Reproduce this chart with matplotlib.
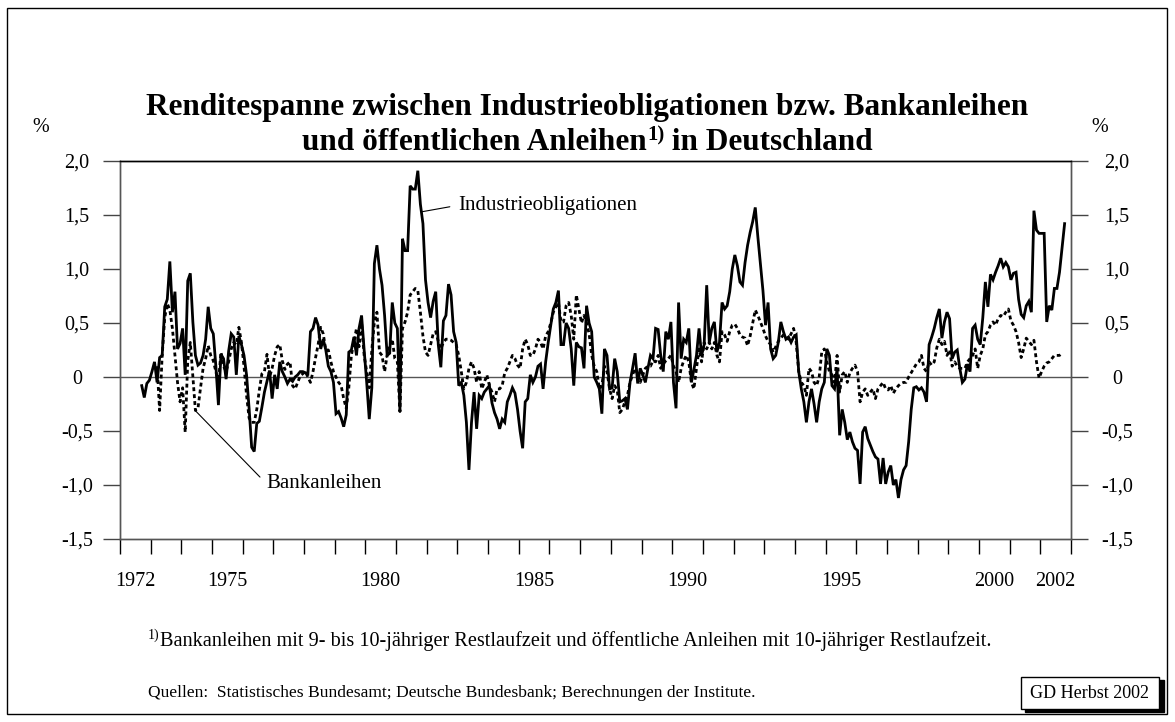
import matplotlib
matplotlib.use("Agg")
import matplotlib.pyplot as plt
from matplotlib.patches import Rectangle

plt.rcParams['font.family'] = ['Liberation Serif', 'DejaVu Serif']

# Renditespanne Industrieobligationen (Monatswerte ab Sep 1972), in Prozentpunkten
industrie_start = (1972, 9)
industrie = [
    -0.08, -0.19, -0.06, -0.03,                                                  # 1972
    0.05, 0.14, -0.05, 0.18, 0.2, 0.65, 0.72, 1.07, 0.6, 0.79, 0.26, 0.31,      # 1973
    0.45, 0.02, 0.89, 0.96, 0.51, 0.2, 0.11, 0.13, 0.2, 0.35, 0.65, 0.45,       # 1974
    0.40, 0.1, -0.26, 0.21, 0.17, -0.02, 0.24, 0.40, 0.37, 0.02, 0.38, 0.3,     # 1975
    0.2, 0.02, -0.29, -0.65, -0.69, -0.43, -0.41, -0.28, -0.14, -0.04, 0.06, -0.2,
    0.02, -0.11, 0.14, 0.05, 0.0, -0.06, -0.02, -0.04, 0.0, 0.02, 0.05, 0.05,
    0.04, 0.03, 0.42, 0.45, 0.55, 0.48, 0.26, 0.35, 0.25, 0.1, 0.05, -0.05,
    -0.34, -0.32, -0.38, -0.46, -0.35, 0.23, 0.25, 0.37, 0.2, 0.45, 0.57, 0.25,
    -0.05, -0.39, -0.1, 1.05, 1.22, 1.0, 0.85, 0.57, 0.2, 0.22, 0.69, 0.5,      # 1980
    0.45, -0.32, 1.28, 1.17, 1.17, 1.77, 1.74, 1.74, 1.91, 1.6, 1.42, 0.9,
    0.69, 0.55, 0.7, 0.79, 0.3, 0.09, 0.52, 0.57, 0.86, 0.76, 0.42, 0.32,
    -0.08, -0.05, -0.17, -0.42, -0.86, -0.42, -0.14, -0.48, -0.17, -0.2, -0.14, -0.11,
    -0.08, -0.24, -0.33, -0.39, -0.48, -0.39, -0.42, -0.23, -0.17, -0.1, -0.15, -0.3,
    -0.5, -0.66, -0.23, -0.2, 0.02, -0.05, 0.0, 0.1, 0.12, -0.11, 0.14, 0.32,   # 1985
    0.48, 0.63, 0.69, 0.80, 0.3, 0.3, 0.5, 0.45, 0.26, -0.08, 0.32, 0.28,
    0.27, 0.08, 0.66, 0.5, 0.42, 0.0, -0.05, -0.11, -0.34, 0.26, 0.2, -0.11,
    -0.1, 0.17, 0.05, -0.23, -0.22, -0.2, -0.3, -0.05, 0.08, 0.22, -0.06, 0.08,
    0.02, -0.05, 0.08, 0.2, 0.17, 0.45, 0.44, 0.2, 0.05, 0.42, 0.35, 0.51,
    -0.05, -0.29, 0.69, 0.17, 0.35, 0.32, 0.45, -0.05, 0.07, 0.2, 0.45, 0.2,    # 1990
    0.3, 0.85, 0.32, 0.45, 0.51, 0.23, 0.32, 0.69, 0.63, 0.66, 0.79, 1.0,
    1.13, 1.03, 0.88, 0.85, 1.06, 1.22, 1.34, 1.44, 1.57, 1.3, 1.05, 0.8,
    0.48, 0.69, 0.26, 0.17, 0.2, 0.32, 0.51, 0.42, 0.35, 0.37, 0.32, 0.37,
    0.39, 0.05, -0.11, -0.23, -0.42, -0.23, -0.11, -0.25, -0.42, -0.23, -0.11, -0.05,
    0.26, 0.2, -0.08, -0.11, 0.08, -0.54, -0.3, -0.42, -0.58, -0.51, -0.6, -0.66,   # 1995
    -0.68, -0.99, -0.51, -0.46, -0.57, -0.63, -0.69, -0.74, -0.76, -0.99, -0.75, -0.99,
    -0.88, -0.82, -1.0, -0.95, -1.12, -0.95, -0.86, -0.82, -0.6, -0.3, -0.1, -0.09,
    -0.12, -0.1, -0.14, -0.23, 0.3, 0.37, 0.45, 0.55, 0.63, 0.36, 0.51, 0.6,
    0.54, 0.17, 0.23, 0.25, 0.08, -0.05, -0.02, 0.12, 0.05, 0.45, 0.48, 0.35,
    0.3, 0.55, 0.88, 0.65, 0.95, 0.9, 0.97, 1.03, 1.1, 1.02, 1.06, 1.02,        # 2000
    0.9, 0.96, 0.97, 0.72, 0.58, 0.55, 0.66, 0.7, 0.6, 1.54, 1.36, 1.33,
    1.33, 1.33, 0.51, 0.66, 0.62, 0.82, 0.82, 0.97, 1.2, 1.42,
]

# Renditespanne Bankanleihen (Monatswerte ab Mrz 1973)
bank_start = (1973, 3)
bank = [
    0.1, -0.31, 0.2, 0.55, 0.68, 0.62, 0.45, 0.2, -0.05, -0.23,                 # 1973
    -0.1, -0.51, 0.15, 0.32, 0.0, -0.31, -0.29, -0.1, 0.08, 0.17, 0.29, 0.2,
    0.15, 0.05, -0.05, 0.23, 0.1, 0.05, 0.14, 0.26, 0.32, 0.3, 0.46, 0.32,      # 1975
    0.1, -0.17, -0.38, -0.42, -0.42, -0.3, -0.12, 0.03, 0.05, 0.21, 0.0, 0.08,
    0.2, 0.28, 0.3, 0.15, 0.07, 0.12, 0.14, -0.08, -0.11, -0.05, 0.01, 0.03,
    0.05, 0.0, -0.05, 0.05, 0.18, 0.3, 0.46, 0.4, 0.25, 0.25, 0.14, 0.05,
    0.0, -0.05, -0.08, -0.2, -0.29, -0.1, 0.2, 0.32, 0.45, 0.28, 0.5, 0.2,
    0.05, -0.1, 0.25, 0.51, 0.6, 0.23, 0.2, 0.05, 0.2, 0.29, 0.35, 0.17,        # 1980
    0.14, -0.32, 0.45, 0.51, 0.6, 0.76, 0.79, 0.82, 0.8, 0.6, 0.38, 0.23,
    0.2, 0.3, 0.4, 0.42, 0.33, 0.26, 0.32, 0.35, 0.35, 0.34, 0.32, 0.3,
    0.2, 0.05, -0.11, -0.05, 0.08, 0.14, 0.08, -0.05, 0.05, -0.11, -0.05, 0.02,
    -0.08, -0.14, -0.23, -0.11, -0.11, -0.08, 0.04, 0.08, 0.14, 0.2, 0.17, 0.11,
    0.08, 0.26, 0.35, 0.3, 0.2, 0.2, 0.26, 0.35, 0.32, 0.26, 0.38, 0.42,        # 1985
    0.5, 0.6, 0.65, 0.69, 0.51, 0.51, 0.66, 0.69, 0.57, 0.35, 0.76, 0.63,
    0.5, 0.57, 0.5, 0.4, 0.2, 0.1, 0.05, -0.11, -0.08, 0.1, 0.05, -0.11,
    -0.2, -0.08, -0.12, -0.33, -0.3, -0.23, -0.17, -0.05, 0.02, 0.08, 0.02, -0.05,
    0.02, 0.08, 0.1, 0.1, 0.15, 0.14, 0.2, 0.08, 0.12, 0.15, 0.17, 0.2,
    0.1, 0.05, -0.05, 0.08, 0.15, 0.2, 0.14, -0.05, -0.11, 0.08, 0.26, 0.14,    # 1990
    0.32, 0.26, 0.32, 0.26, 0.32, 0.2, 0.14, 0.42, 0.39, 0.33, 0.42, 0.48,
    0.49, 0.45, 0.39, 0.37, 0.36, 0.29, 0.38, 0.5, 0.62, 0.57, 0.51, 0.45,
    0.38, 0.33, 0.3, 0.23, 0.28, 0.33, 0.36, 0.39, 0.37, 0.35, 0.4, 0.45,
    0.32, 0.05, -0.05, -0.08, -0.17, 0.08, 0.05, -0.05, -0.08, 0.0, 0.23, 0.26,
    0.14, 0.05, 0.02, -0.05, 0.2, -0.14, 0.02, 0.05, -0.05, 0.04, 0.08, 0.11,   # 1995
    0.05, -0.23, -0.14, -0.11, -0.17, -0.14, -0.11, -0.2, -0.11, -0.08, -0.05, -0.11,
    -0.12, -0.08, -0.15, -0.11, -0.08, -0.06, -0.05, -0.05, 0.0, 0.04, 0.08, 0.12,
    0.14, 0.2, 0.08, 0.05, 0.14, 0.11, 0.14, 0.27, 0.35, 0.3, 0.33, 0.2,
    0.25, 0.1, 0.14, 0.1, 0.08, 0.08, 0.08, 0.14, 0.17, 0.2, 0.26, 0.08,
    0.2, 0.26, 0.39, 0.42, 0.48, 0.51, 0.48, 0.54, 0.57, 0.56, 0.6, 0.63,       # 2000
    0.52, 0.48, 0.42, 0.32, 0.18, 0.26, 0.36, 0.33, 0.3, 0.34, 0.14, -0.01,
    0.05, 0.1, 0.13, 0.14, 0.17, 0.2, 0.2, 0.2, 0.22,
]

label_years = [1972, 1975, 1980, 1985, 1990, 1995, 2000, 2002]
y_ticks = [-1.5, -1.0, -0.5, 0.0, 0.5, 1.0, 1.5, 2.0]
y_labels = ['-1,5', '-1,0', '-0,5', '0', '0,5', '1,0', '1,5', '2,0']


def month_axis(start, n):
    y0, m0 = start
    return [y0 + (m0 - 1 + i + 0.5) / 12.0 for i in range(n)]


fig = plt.figure(figsize=(11.75, 7.22), dpi=100)
ax = fig.add_axes([120 / 1175, 1 - 539 / 722, 951 / 1175, 378 / 722])

ax.axhline(0, color='#555555', lw=1.0, zorder=1)
ax.plot(month_axis(industrie_start, len(industrie)), industrie,
        color='black', lw=2.0, solid_joinstyle='miter', zorder=3)
ax.plot(month_axis(bank_start, len(bank)), bank,
        color='black', lw=2.0, linestyle=(0, (1.4, 1.1)), zorder=4)

ax.set_xlim(1972, 2003)
ax.set_ylim(-1.5, 2.0)

# x-Achse: Striche an Jahresgrenzen, Beschriftung in der Jahresmitte
ax.set_xticks(range(1972, 2004))
ax.set_xticklabels([])
ax.set_xticks([y + 0.5 for y in label_years], minor=True)
ax.set_xticklabels([str(y) for y in label_years], minor=True)
ax.tick_params(axis='x', which='major', direction='out', length=11, width=1, color='black')
ax.tick_params(axis='x', which='minor', length=0, pad=24, labelsize=14.5)

ax.set_yticks(y_ticks)
ax.set_yticklabels(y_labels)
ax.tick_params(axis='y', direction='out', length=12, width=1, color='#444444',
               labelsize=14.5, pad=19)
for lbl in ax.get_yticklabels():
    lbl.set_horizontalalignment('center')

ax2 = ax.twinx()
ax2.set_ylim(-1.5, 2.0)
ax2.set_yticks(y_ticks)
ax2.set_yticklabels(y_labels)
ax2.tick_params(axis='y', direction='out', length=12, width=1, color='#444444',
                labelsize=14.5, pad=21)
for lbl in ax2.get_yticklabels():
    lbl.set_horizontalalignment('center')

for a in (ax, ax2):
    for side in ('left', 'right', 'bottom'):
        a.spines[side].set_color('#555555')
        a.spines[side].set_linewidth(1.0)
    a.spines['top'].set_color('black')
    a.spines['top'].set_linewidth(1.0)

ax.annotate('Industrieobligationen', xy=(1981.84, 1.53), xytext=(1983.02, 1.59),
            fontsize=15, va='center', ha='left',
            arrowprops=dict(arrowstyle='-', color='black', lw=0.8,
                            relpos=(0, 0.5), shrinkA=4, shrinkB=0))
ax.annotate('Bankanleihen', xy=(1974.45, -0.31), xytext=(1976.78, -0.99),
            fontsize=15, va='center', ha='left',
            arrowprops=dict(arrowstyle='-', color='black', lw=0.8,
                            relpos=(0, 0.5), shrinkA=4, shrinkB=0))

fig.text(41 / 1175, 1 - 128 / 722, '%', fontsize=14.5, ha='center', va='center')
fig.text(1100 / 1175, 1 - 128 / 722, '%', fontsize=14.5, ha='center', va='center')

# Titel und Fussnote mit hochgestelltem "1)"
fig.canvas.draw()
rend = fig.canvas.get_renderer()
W, H = fig.bbox.width, fig.bbox.height


def place_parts(parts, x_px, y_px, centered):
    texts = []
    for s, size, weight, rise in parts:
        t = fig.text(0, 0, s, fontsize=size, fontweight=weight, ha='left', va='baseline')
        texts.append((t, rise))
    widths = [t.get_window_extent(renderer=rend).width for t, _ in texts]
    x = x_px - sum(widths) / 2 if centered else x_px
    for (t, rise), w in zip(texts, widths):
        t.set_position((x / W, (H - y_px + rise) / H))
        x += w


fig.text(0.5, 1 - 107 / 722, 'Renditespanne zwischen Industrieobligationen bzw. Bankanleihen',
         fontsize=22.5, fontweight='bold', ha='center', va='center')
place_parts([('und öffentlichen Anleihen', 22.5, 'bold', 0),
             ('1)', 15, 'bold', 10),
             (' in Deutschland', 22.5, 'bold', 0)], 587.5, 150, True)

place_parts([('1)', 10, 'normal', 7),
             ('Bankanleihen mit 9- bis 10-jähriger Restlaufzeit und öffentliche '
              'Anleihen mit 10-jähriger Restlaufzeit.', 14.6, 'normal', 0)], 148, 646, False)

fig.text(148 / 1175, 1 - 693 / 722,
         'Quellen:  Statistisches Bundesamt; Deutsche Bundesbank; Berechnungen der Institute.',
         fontsize=12.6, ha='left', va='center')

# Kasten "GD Herbst 2002" mit Schatten
fig.patches.append(Rectangle((1025 / 1175, 1 - 712 / 722), 139 / 1175, 32 / 722,
                             transform=fig.transFigure, facecolor='black', edgecolor='black'))
fig.patches.append(Rectangle((1021 / 1175, 1 - 709 / 722), 138 / 1175, 32 / 722,
                             transform=fig.transFigure, facecolor='white', edgecolor='black', lw=1))
fig.text(1090 / 1175, 1 - 693 / 722, 'GD Herbst 2002', fontsize=13, ha='center', va='center')

# Rahmen um die ganze Grafik
fig.patches.append(Rectangle((7 / 1175, 1 - 714 / 722), 1160 / 1175, 706 / 722,
                             transform=fig.transFigure, fill=False, edgecolor='black', lw=1))

fig.savefig('out.png', dpi=100)
